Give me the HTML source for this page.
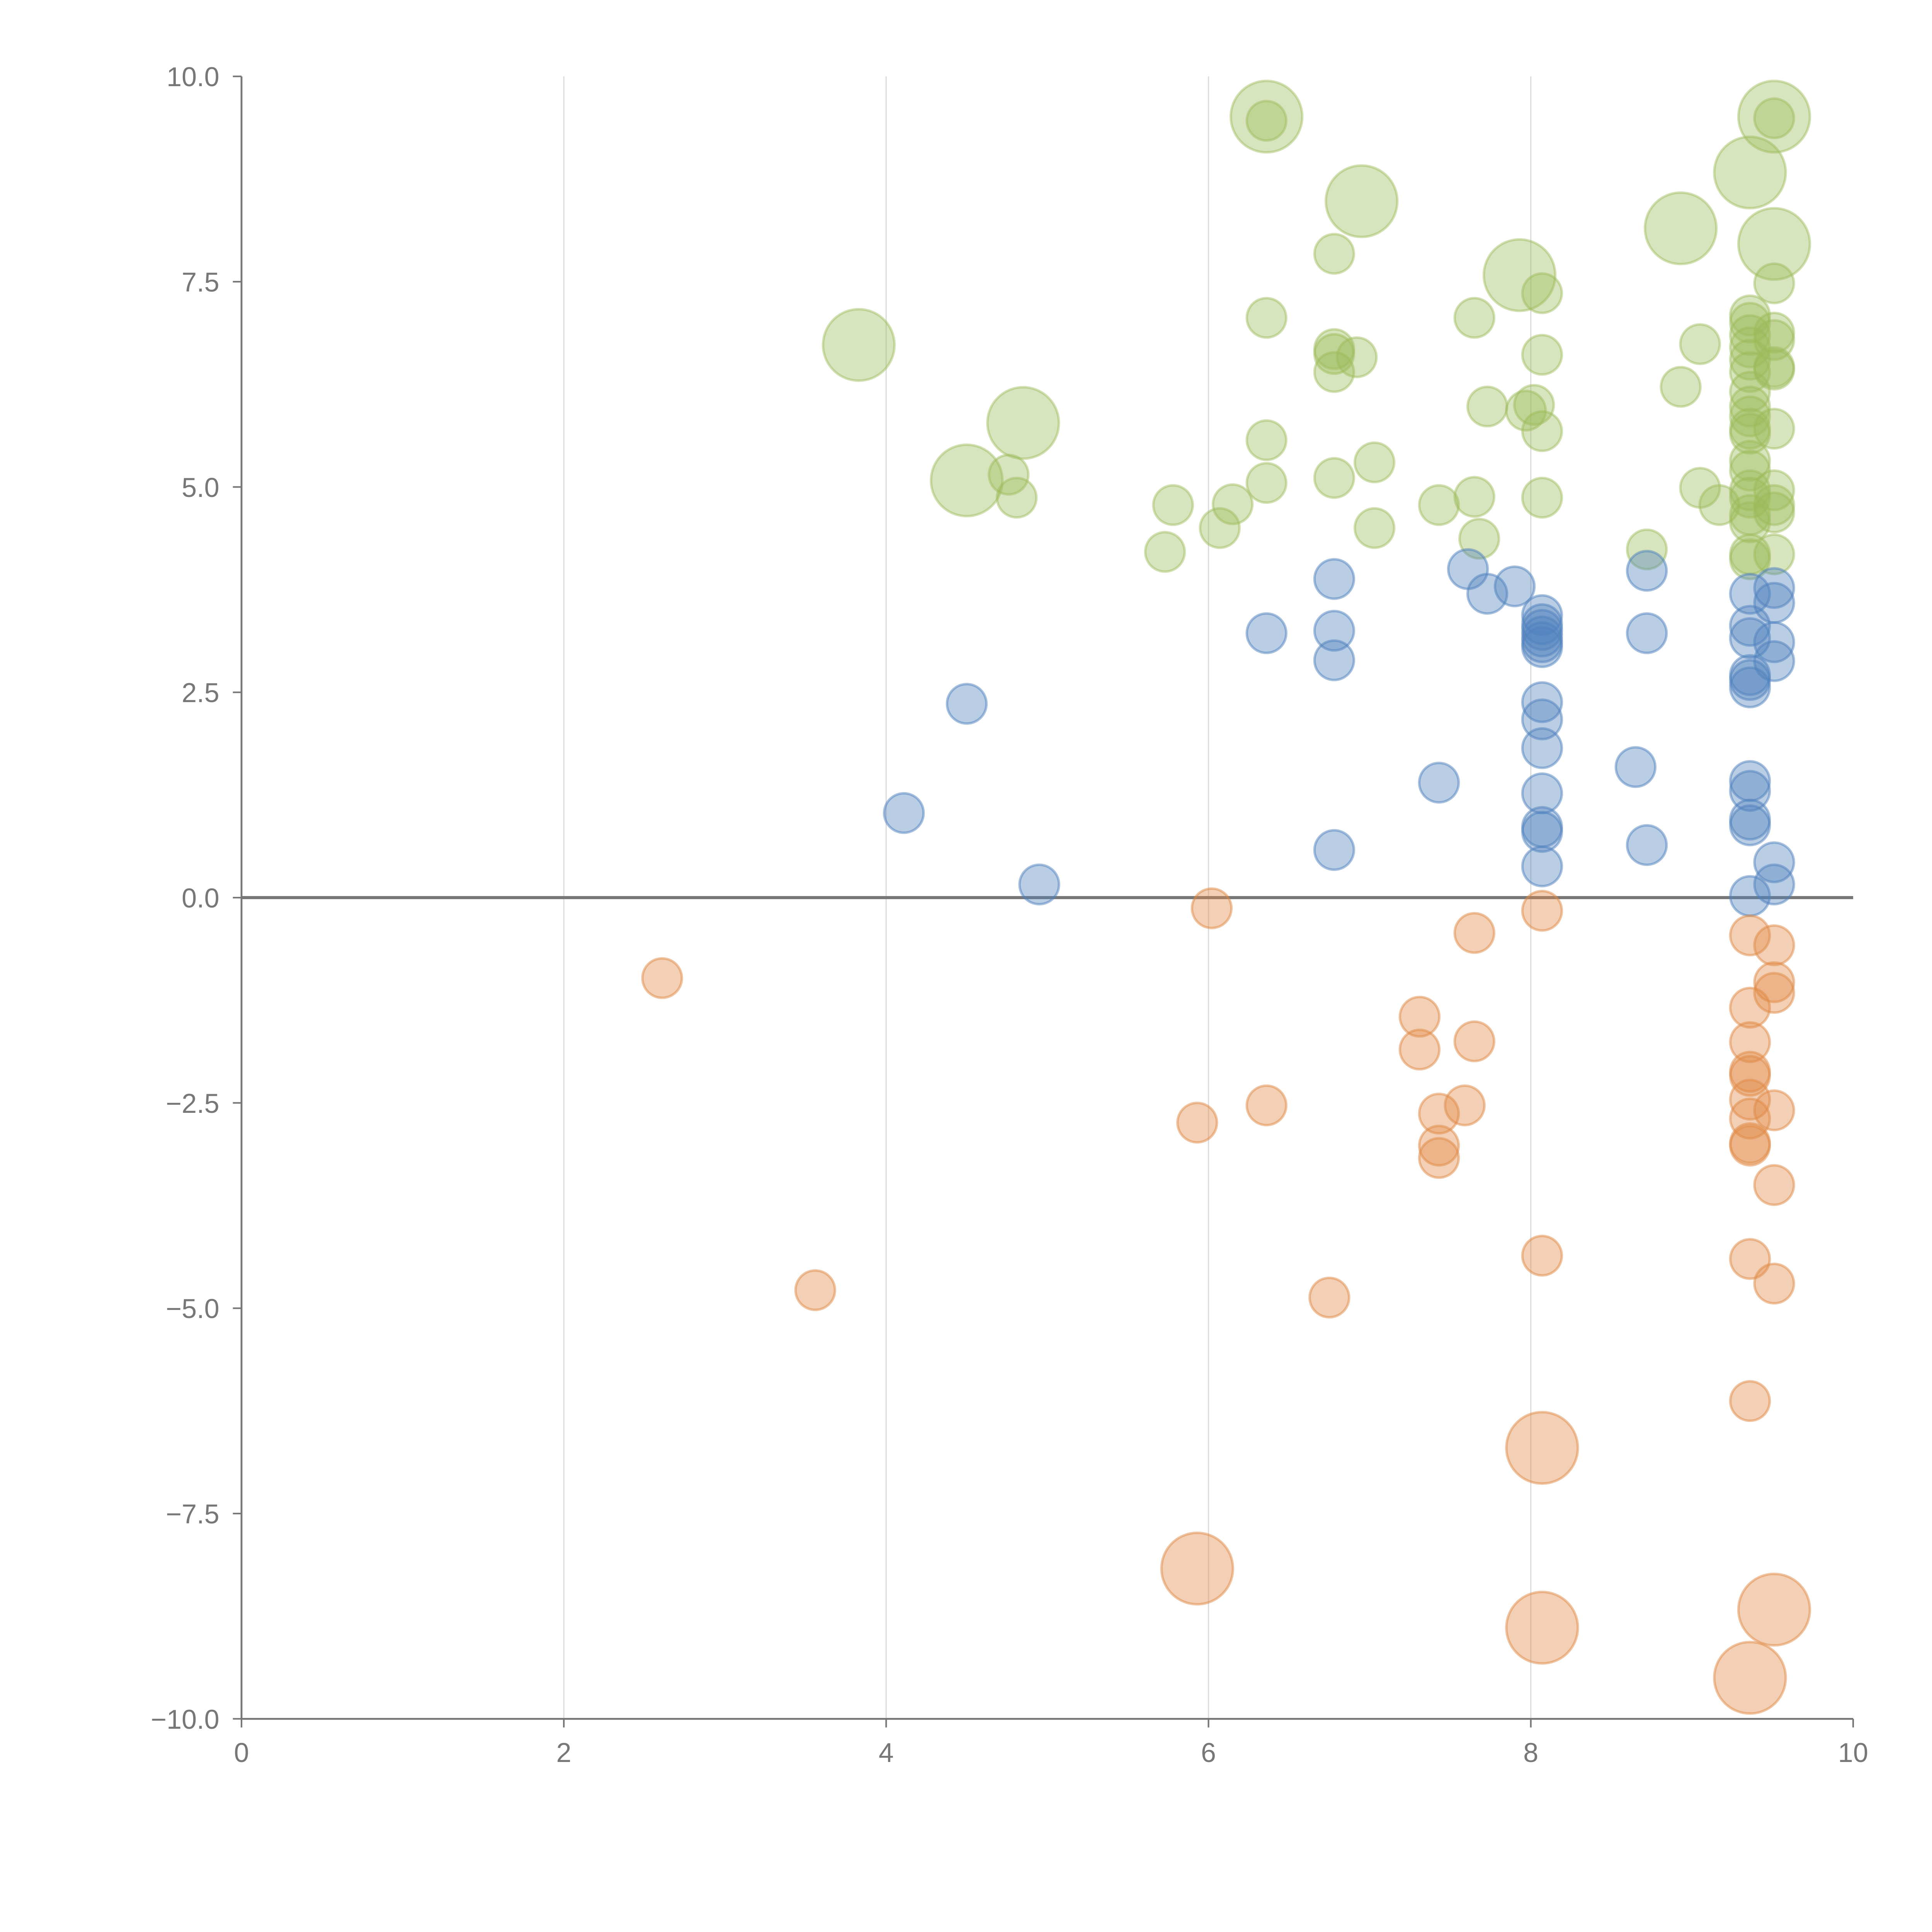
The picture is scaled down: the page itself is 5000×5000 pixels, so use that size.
<!DOCTYPE html>
<html><head><meta charset="utf-8"><style>html,body{margin:0;padding:0;background:#fff}svg{display:block}</style></head>
<body>
<svg id="chart" width="5000" height="5000" viewBox="0 0 1568 1568" xmlns="http://www.w3.org/2000/svg" font-family="Liberation Sans, sans-serif">
<g id="grid"></g>
<g id="axes"></g>
<g id="marks"></g>
</svg>
<script>
const greenX=[6.78,6.36,7.65,8.07,6.78,6.78,6.92,6.78,8.07,7.73,7.97,8.02,8.07,6.36,7.03,6.78,6.36,4.76,4.81,5.78,6.15,6.07,5.73,7.03,7.43,7.65,7.68,8.07,8.72,8.93,9.05,9.17,9.05,
9.36,9.36,9.36,9.36,9.36,9.36,9.36,9.36,9.36,9.36,9.36,9.36,9.36,9.36,9.36,9.36,9.36,9.36,9.36,
9.51,9.51,9.51,9.51,9.51,9.51,9.51,9.51,9.51,9.51,9.51,6.36,
3.83,4.50,4.85,6.36,6.95,7.93,8.93,9.36,9.51,9.51];
const greenY=[7.84,7.06,7.06,7.36,6.68,6.62,6.58,6.40,6.61,5.98,5.93,6.0,5.68,5.57,5.30,5.11,5.05,5.15,4.87,4.78,4.79,4.50,4.21,4.50,4.78,4.88,4.37,4.87,4.24,6.22,4.99,4.78,6.74,
7.09,7.0,6.85,6.70,6.55,6.40,6.16,5.98,5.86,5.71,5.65,5.32,5.20,4.96,4.87,4.66,4.57,4.18,4.12,
7.48,6.88,6.79,6.46,6.43,5.71,4.96,4.78,4.69,4.18,9.49,9.46,
6.73,5.08,5.78,9.51,8.48,7.58,8.15,8.83,9.51,7.96];
const greenS=[1,1,1,1,1,1,1,1,1,1,1,1,1,1,1,1,1,1,1,1,1,1,1,1,1,1,1,1,1,1,1,1,1,
1,1,1,1,1,1,1,1,1,1,1,1,1,1,1,1,1,1,1,
1,1,1,1,1,1,1,1,1,1,1,1,
3,3,3,3,3,3,3,3,3,3];
const blueX=[4.11,4.50,4.95,6.36,6.78,6.78,6.78,6.78,7.43,7.61,7.73,7.90,
8.07,8.07,8.07,8.07,8.07,8.07,8.07,8.07,8.07,8.07,8.07,8.07,8.07,
8.65,8.72,8.72,8.72,
9.36,9.36,9.36,9.36,9.36,9.36,9.36,9.36,9.36,9.36,9.36,
9.51,9.51,9.51,9.51,9.51,9.51];
const blueY=[1.03,2.36,0.16,3.22,3.88,3.25,2.89,0.58,1.40,4.00,3.70,3.79,
3.44,3.33,3.26,3.18,3.11,3.05,2.38,2.17,1.82,1.27,0.86,0.80,0.38,
1.59,3.98,3.22,0.64,
3.70,3.31,3.16,2.71,2.65,2.56,1.42,1.30,0.95,0.88,0.02,
3.77,3.59,3.11,2.88,0.43,0.16];
const orangeX=[2.61,3.56,5.93,6.02,6.36,6.75,7.31,7.31,7.43,7.43,7.43,7.59,7.65,7.65,8.07,8.07,
9.36,9.36,9.36,9.36,9.36,9.36,9.36,9.36,9.36,9.36,9.36,
9.51,9.51,9.51,9.51,9.51,9.51,
8.07,5.93,8.07,9.51,9.36];
const orangeY=[-0.98,-4.78,-2.74,-0.13,-2.53,-4.87,-1.45,-1.85,-2.63,-3.02,-3.17,-2.53,-0.43,-1.75,-0.16,-4.36,
-0.46,-1.34,-1.76,-2.12,-2.17,-2.46,-2.69,-2.99,-3.02,-4.40,-6.13,
-0.58,-1.03,-1.16,-2.59,-3.50,-4.70,
-6.70,-8.17,-8.89,-8.67,-9.50];
const orangeS=[1,1,1,1,1,1,1,1,1,1,1,1,1,1,1,1,1,1,1,1,1,1,1,1,1,1,1,1,1,1,1,1,1,3,3,3,3,3];
const xTicks=[0,2,4,6,8,10];
const yTicks=[-10,-7.5,-5,-2.5,0,2.5,5,7.5,10];

const NS="http://www.w3.org/2000/svg";
const X0=196,X1=1504,Y0=1395,Y1=62;
function sx(v){return X0+(v-0)/(10-0)*(X1-X0);}
function sy(v){return Y0-(v+10)/20*(Y0-Y1);}
function rad(s){return s>=3?29:16;}
function mk(tag,attrs,parent){const e=document.createElementNS(NS,tag);for(const k in attrs)e.setAttribute(k,attrs[k]);parent.appendChild(e);return e;}
const grid=document.getElementById('grid'),axes=document.getElementById('axes'),marks=document.getElementById('marks');
xTicks.forEach(t=>{
  if(t>0&&t<10){const g=mk('line',{x1:sx(t),x2:sx(t),y1:Y1,y2:Y0,stroke:'#dcdcdc','stroke-width':1},grid);
  
  }
  mk('line',{x1:sx(t),x2:sx(t),y1:Y0,y2:Y0+7,stroke:'#777','stroke-width':1.3},axes);
  const tx=mk('text',{x:sx(t),y:Y0+35,'text-anchor':'middle','font-size':22,fill:'#777'},axes);
  tx.textContent=t;
  
  
});
yTicks.forEach(t=>{
  mk('line',{x1:X0-7,x2:X0,y1:sy(t),y2:sy(t),stroke:'#777','stroke-width':1.3},axes);
  const tx=mk('text',{x:X0-18,y:sy(t)+8,'text-anchor':'end','font-size':22,fill:'#777'},axes);
  tx.textContent=t.toFixed(1).replace('-','\u2212');
  
  
});
const ya=mk('line',{x1:X0,x2:X0,y1:Y1,y2:Y0,stroke:'#777','stroke-width':1.5},axes);


const xa=mk('line',{x1:X0,x2:X1,y1:Y0,y2:Y0,stroke:'#777','stroke-width':1.5},axes);


const zl=mk('line',{x1:X0,x2:X1,y1:sy(0),y2:sy(0),stroke:'#777','stroke-width':2.5},axes);


function series(xs,ys,ss,fill,stroke,name){
  xs.forEach((x,i)=>{
    const c=mk('circle',{cx:sx(x),cy:sy(ys[i]),r:rad(ss?ss[i]:1),fill:fill,stroke:stroke,'stroke-width':2},marks);
    
    
  });
}
series(greenX,greenY,greenS,'rgba(155,187,89,0.4)','rgba(155,187,89,0.45)','green-bubble');
series(blueX,blueY,null,'rgba(79,129,189,0.4)','rgba(79,129,189,0.5)','blue-bubble');
series(orangeX,orangeY,orangeS,'rgba(224,138,70,0.4)','rgba(224,138,70,0.5)','orange-bubble');
</script>
</body></html>
